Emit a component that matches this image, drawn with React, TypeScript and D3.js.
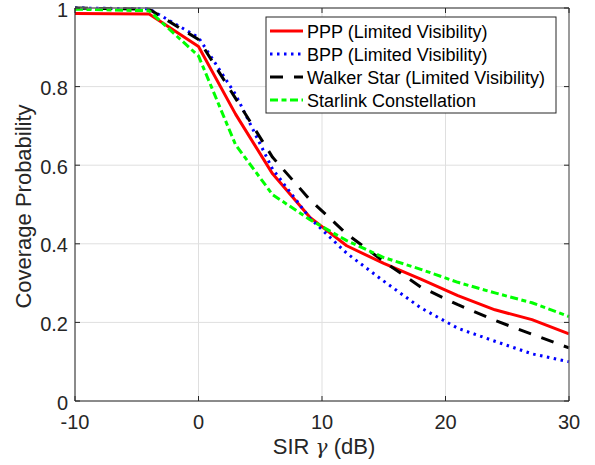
import React from "react";
import * as d3 from "d3";

const sirValues = [-10, -4, 0, 3, 6, 9, 12, 15, 18, 21, 24, 27, 30];
const pppValues = [0.986, 0.985, 0.902, 0.73, 0.578, 0.468, 0.395, 0.35, 0.31, 0.268, 0.232, 0.207, 0.171];
const bppValues = [1.0, 0.998, 0.925, 0.78, 0.59, 0.466, 0.376, 0.305, 0.237, 0.185, 0.152, 0.12, 0.1];
const walkerValues = [1.0, 0.997, 0.92, 0.77, 0.62, 0.513, 0.425, 0.355, 0.29, 0.245, 0.205, 0.17, 0.135];
const starlinkValues = [0.997, 0.993, 0.878, 0.652, 0.525, 0.462, 0.408, 0.365, 0.335, 0.302, 0.275, 0.25, 0.215];

const seriesNames = [
  "PPP (Limited Visibility)",
  "BPP (Limited Visibility)",
  "Walker Star (Limited Visibility)",
  "Starlink Constellation",
];
const xTicks = [-10, 0, 10, 20, 30];
const yTicks = [0, 0.2, 0.4, 0.6, 0.8, 1];
const yTickLabels = ["0", "0.2", "0.4", "0.6", "0.8", "1"];

const FONT = "'Liberation Sans', Arial, Helvetica, sans-serif";

export default function App() {
  const W = 595, H = 465;
  const left = 75, right = 569, top = 8, bottom = 401;
  const x = d3.scaleLinear().domain([-10, 30]).range([left, right]);
  const y = d3.scaleLinear().domain([0, 1]).range([bottom, top]);

  const styles = [
    { color: "#ff0000", dash: undefined as string | undefined, width: 3 },
    { color: "#0000ff", dash: "2.5,4.5", width: 3 },
    { color: "#000000", dash: "13,11", width: 3 },
    { color: "#00ff00", dash: "8,3.5,5,3.5", width: 3 },
  ];
  const data = [pppValues, bppValues, walkerValues, starlinkValues];

  const line = d3
    .line<number>()
    .x((_, i) => x(sirValues[i]))
    .y((d) => y(d));

  const tickLen = 5;
  const axisColor = "#262626";

  const legX = 266, legY = 17, legW = 290, legH = 96;
  const rowY = (i: number) => 31 + i * 23;

  return (
    <svg
      width={W}
      height={H}
      style={{ position: "absolute", left: 0, top: 0, background: "#fff" }}
      fontFamily={FONT}
    >
      <rect x={0} y={0} width={W} height={H} fill="#fff" />
      {/* grid */}
      {xTicks.map((t) => (
        <line key={"gx" + t} x1={x(t)} x2={x(t)} y1={top} y2={bottom} stroke="#dfdfdf" strokeWidth={1} />
      ))}
      {yTicks.map((t) => (
        <line key={"gy" + t} x1={left} x2={right} y1={y(t)} y2={y(t)} stroke="#dfdfdf" strokeWidth={1} />
      ))}

      {/* series */}
      <g>
        {data.map((vals, i) => (
          <path
            key={i}
            d={line(vals) || ""}
            fill="none"
            stroke={styles[i].color}
            strokeWidth={styles[i].width}
            strokeDasharray={styles[i].dash}
            strokeLinejoin="round"
          />
        ))}
      </g>

      {/* axes box */}
      <line x1={left} x2={right} y1={top} y2={top} stroke="#6e6e6e" strokeWidth={1.3} />
      <line x1={right} x2={right} y1={top} y2={bottom} stroke="#6e6e6e" strokeWidth={1.3} />
      <line x1={left} x2={right} y1={bottom} y2={bottom} stroke={axisColor} strokeWidth={1} />
      <line x1={left} x2={left} y1={top} y2={bottom} stroke={axisColor} strokeWidth={1} />

      {/* ticks */}
      {xTicks.map((t) => (
        <g key={"tx" + t}>
          <line x1={x(t)} x2={x(t)} y1={bottom} y2={bottom - tickLen} stroke={axisColor} />
          <line x1={x(t)} x2={x(t)} y1={top} y2={top + tickLen} stroke={axisColor} />
          <text x={x(t)} y={429} textAnchor="middle" fontSize={20} fill={axisColor}>
            {t}
          </text>
        </g>
      ))}
      {yTicks.map((t, i) => (
        <g key={"ty" + t}>
          <line x1={left} x2={left + tickLen} y1={y(t)} y2={y(t)} stroke={axisColor} />
          <line x1={right} x2={right - tickLen} y1={y(t)} y2={y(t)} stroke={axisColor} />
          <text x={68} y={y(t) + 8.5} textAnchor="end" fontSize={20} fill={axisColor}>
            {yTickLabels[i]}
          </text>
        </g>
      ))}

      {/* axis labels */}
      <text x={(left + right) / 2 + 2} y={454} textAnchor="middle" fontSize={22} fill={axisColor}>
        SIR <tspan fontStyle="italic" fontFamily="'DejaVu Serif', serif" fontSize={20}>γ</tspan> (dB)
      </text>
      <text
        transform={`translate(31, ${(top + bottom) / 2 + 2}) rotate(-90)`}
        textAnchor="middle"
        fontSize={22}
        fill={axisColor}
      >
        Coverage Probability
      </text>

      {/* legend */}
      <rect x={legX} y={legY} width={legW} height={legH} fill="#fff" stroke={axisColor} strokeWidth={1} />
      {seriesNames.map((name, i) => (
        <g key={name}>
          <line
            x1={270}
            x2={303}
            y1={rowY(i)}
            y2={rowY(i)}
            stroke={styles[i].color}
            strokeWidth={styles[i].width}
            strokeDasharray={styles[i].dash}
          />
          <text x={307} y={rowY(i) + 6.5} fontSize={18} fill="#000">
            {name}
          </text>
        </g>
      ))}
    </svg>
  );
}
